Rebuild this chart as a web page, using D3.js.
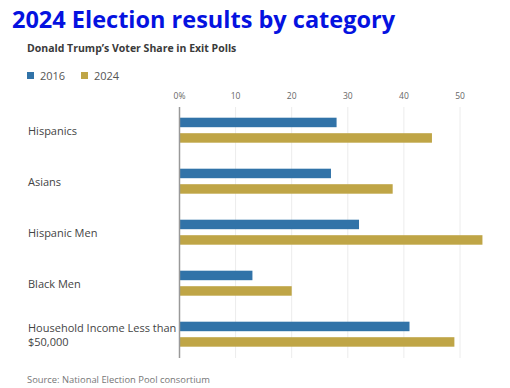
<!DOCTYPE html>
<html>
<head>
<meta charset="utf-8">
<script src="https://d3js.org/d3.v7.min.js"></script>
<style>
  body { margin: 0; background: white; }
  text { font-family: 'Open Sans', sans-serif; }
</style>
</head>
<body>
<div id="chart"></div>
<script>
var categories = ["Hispanics", "Asians", "Hispanic Men", "Black Men", "Household Income Less than|$50,000"];
var years = ["2016", "2024"];
var share2016 = [28, 27, 32, 13, 41];
var share2024 = [45, 38, 54, 20, 49];
var ticks = [0, 10, 20, 30, 40, 50];

var color = d3.scaleOrdinal().domain(years).range(["#3173a8", "#bfa546"]);

var width = 510, height = 388;
var svg = d3.select("#chart").append("svg")
  .attr("width", width).attr("height", height);

// title block
svg.append("text").attr("x", 12).attr("y", 28)
  .style("font-weight", "700").style("font-size", "23.5px").style("fill", "#0512e0")
  .text("2024 Election results by category");

svg.append("text").attr("x", 27).attr("y", 52)
  .style("font-weight", "700").style("font-size", "10.5px").style("fill", "#3a3a3a")
  .text("Donald Trump\u2019s Voter Share in Exit Polls");

// legend
var legend = svg.selectAll(".legend").data(years).enter().append("g")
  .attr("transform", function (d, i) { return "translate(" + (27 + i * 54) + ",72)"; });
legend.append("rect").attr("width", 7).attr("height", 7).style("fill", function (d) { return color(d); });
legend.append("text").attr("x", 13).attr("y", 7.5)
  .style("font-size", "11px").style("fill", "#555").text(function (d) { return d; });

// scales
var x = d3.scaleLinear().domain([0, 50]).range([179.5, 460]);
var y = d3.scaleBand().domain(categories).range([104.7, 359.7]);
var yInner = d3.scaleBand().domain(years).range([13, 38]).paddingInner(0.387);

// grid
svg.selectAll(".grid").data(ticks.slice(1)).enter().append("line")
  .attr("x1", function (d) { return x(d); }).attr("x2", function (d) { return x(d); })
  .attr("y1", 107).attr("y2", 358)
  .style("stroke", "#ececec").style("stroke-width", 1);

svg.selectAll(".tick").data(ticks).enter().append("text")
  .attr("x", function (d) { return x(d); }).attr("y", 99)
  .attr("text-anchor", "middle")
  .style("font-size", "8.5px").style("fill", "#666")
  .text(function (d) { return d === 0 ? "0%" : d; });

// bars
var groups = svg.selectAll(".group").data(categories).enter().append("g")
  .attr("transform", function (d) { return "translate(0," + y(d) + ")"; });

groups.selectAll("rect").data(function (d, i) {
    return [{ year: "2016", v: share2016[i] }, { year: "2024", v: share2024[i] }];
  }).enter().append("rect")
  .attr("x", x(0))
  .attr("y", function (d) { return yInner(d.year); })
  .attr("width", function (d) { return x(d.v) - x(0); })
  .attr("height", yInner.bandwidth())
  .style("fill", function (d) { return color(d.year); });

// axis line
svg.append("line").attr("x1", x(0)).attr("x2", x(0)).attr("y1", 107).attr("y2", 358)
  .style("stroke", "#999").style("stroke-width", 1.5);

// category labels
groups.each(function (d) {
  var lines = d.split("|");
  var t = d3.select(this).append("text").attr("x", 28)
    .style("font-size", "11px").style("fill", "#444");
  var start = 25.5 + 5 - (lines.length - 1) * 7;
  lines.forEach(function (l, i) {
    t.append("tspan").attr("x", 28).attr("y", start + i * 14).text(l);
  });
});

svg.append("text").attr("x", 27).attr("y", 383)
  .style("font-size", "9.4px").style("fill", "#777")
  .text("Source: National Election Pool consortium");
</script>
</body>
</html>
